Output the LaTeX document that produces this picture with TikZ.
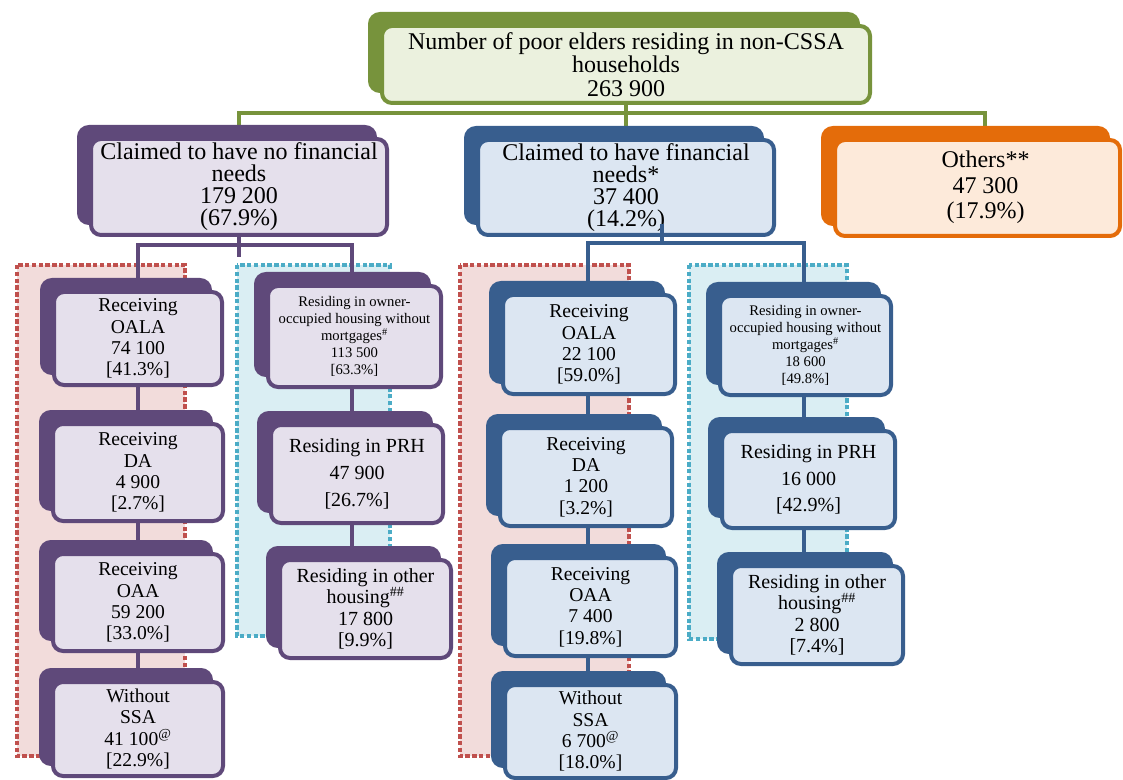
\documentclass[tikz,border=0pt]{standalone}
\usepackage{fontspec}
\setmainfont{Liberation Serif}
\usetikzlibrary{shadows}
\definecolor{gdark}{HTML}{77933C}
\definecolor{glight}{HTML}{EBF1DE}
\definecolor{pdark}{HTML}{5F497A}
\definecolor{plight}{HTML}{E5E0EC}
\definecolor{bdark}{HTML}{385E8E}
\definecolor{blight}{HTML}{DCE6F2}
\definecolor{odark}{HTML}{E46C0A}
\definecolor{olight}{HTML}{FDEADA}
\definecolor{rdot}{HTML}{C0504D}
\definecolor{rfill}{HTML}{F2DCDB}
\definecolor{cdot}{HTML}{4BACC6}
\definecolor{cfill}{HTML}{DAEEF3}
\newcommand\fTop{\fontsize{18pt}{17.6pt}\selectfont}
\newcommand\fMid{\fontsize{18pt}{16.5pt}\selectfont}
\newcommand\fOth{\fontsize{18pt}{19pt}\selectfont}
\newcommand\fLow{\fontsize{14.7pt}{16pt}\selectfont}
\newcommand\fSm{\fontsize{11pt}{12.75pt}\selectfont}
\newcommand\fPRH{\fontsize{15pt}{20pt}\selectfont}
\newcommand\fOH{\fontsize{15pt}{16pt}\selectfont}
\pgfdeclarelayer{back}
\pgfdeclarelayer{bg}
\pgfsetlayers{back,bg,main}
\begin{document}
\begin{tikzpicture}[x=0.75pt,y=-0.75pt,
 box/.style={rounded corners=7.5pt, line width=3pt, align=center, inner sep=0pt},
 sz/.style 2 args={minimum width=#1*0.75pt-3pt, minimum height=#2*0.75pt-3pt},
 colbox/.style 2 args={box, draw=#1, fill=#2,
   general shadow={fill=#1, draw=#1, line width=3pt, shadow xshift=-9pt, shadow yshift=9pt}},
 gbox/.style={colbox={gdark}{glight}},
 pbox/.style={colbox={pdark}{plight}},
 bbox/.style={colbox={bdark}{blight}},
 obox/.style={colbox={odark}{olight}},
 gline/.style={draw=gdark, line width=3pt},
 pline/.style={draw=pdark, line width=3pt},
 bline/.style={draw=bdark, line width=3pt},
 region/.style 2 args={draw=#1, fill=#2, line width=3.4pt, dash pattern=on 3.3pt off 1.8pt},
]
\useasboundingbox (0,0) rectangle (1123,780);

% level 1
\node[gbox, sz={492}{81}, font=\fTop] (top) at (626,64.5)
  {Number of poor elders residing in non-CSSA\\households\\263 900};

% level 2
\node[pbox, sz={300}{100}, font=\fMid] (p2) at (239,187)
  {Claimed to have no financial\\needs\\179 200\\(67.9\%)};
\node[bbox, sz={300}{99}, font=\fMid] (b2) at (626,187.5)
  {Claimed to have financial\\needs*\\37 400\\(14.2\%)};
\node[obox, sz={289}{100}, font=\fOth] (o2) at (977.5,188)
  {\hspace*{12pt}\begin{tabular}{@{}c@{}}Others**\\47 300\\(17.9\%)\end{tabular}};

% level 3, left (no financial needs)
\node[pbox, sz={172}{97}, font=\fLow] (A1) at (138,338.5)
  {Receiving\\OALA\\74 100\\{[}41.3\%{]}};
\node[pbox, sz={174}{101}, font=\fLow] (A2) at (138,472.5)
  {Receiving\\DA\\4 900\\{[}2.7\%{]}};
\node[pbox, sz={174}{101}, font=\fLow] (A3) at (138,602.5)
  {Receiving\\OAA\\59 200\\{[}33.0\%{]}};
\node[pbox, sz={174}{98}, font=\fLow] (A4) at (138,729)
  {Without\\SSA\\41 100\textsuperscript{@}\\{[}22.9\%{]}};
\node[pbox, sz={177}{105}, font=\fSm] (B1) at (354.5,336.5)
  {Residing in owner-\\occupied housing without\\mortgages\textsuperscript{\#}\\113 500\\{[}63.3\%{]}};
\node[pbox, sz={176}{102}, font=\fPRH] (B2) at (357,474)
  {Residing in PRH\\47 900\\{[}26.7\%{]}};
\node[pbox, sz={175}{102}, font=\fOH] (B3) at (365.5,609)
  {Residing in other\\housing\textsuperscript{\#\#}\\17 800\\{[}9.9\%{]}};

% level 3, right (financial needs)
\node[bbox, sz={176}{103}, font=\fLow] (C1) at (589,344.5)
  {Receiving\\OALA\\22 100\\{[}59.0\%{]}};
\node[bbox, sz={176}{102}, font=\fLow] (C2) at (586,477)
  {Receiving\\DA\\1 200\\{[}3.2\%{]}};
\node[bbox, sz={175}{102}, font=\fLow] (C3) at (590.5,607)
  {Receiving\\OAA\\7 400\\{[}19.8\%{]}};
\node[bbox, sz={175}{97}, font=\fLow] (C4) at (590.5,731.5)
  {Without\\SSA\\6 700\textsuperscript{@}\\{[}18.0\%{]}};
\node[bbox, sz={175}{103}, font=\fSm] (D1) at (805.5,345.5)
  {Residing in owner-\\occupied housing without\\mortgages\textsuperscript{\#}\\18 600\\{[}49.8\%{]}};
\node[bbox, sz={177}{101}, font=\fPRH] (D2) at (808.5,479.5)
  {Residing in PRH\\16 000\\{[}42.9\%{]}};
\node[bbox, sz={176}{102}, font=\fOH] (D3) at (817,615)
  {Residing in other\\housing\textsuperscript{\#\#}\\2 800\\{[}7.4\%{]}};

% coordinates
\coordinate (jg) at (626,113);
\coordinate (o2top) at (985,140);
\coordinate (jp) at (239,245);
\coordinate (xB) at (352,0);
\coordinate (jb) at (662,243);
\coordinate (xC) at (588,0);
\coordinate (xD) at (804,0);

% dotted regions
\begin{pgfonlayer}{back}
\draw[region={rdot}{rfill}] (17,265) rectangle (185,756);
\draw[region={cdot}{cfill}] (237,265) rectangle (390,636);
\draw[region={rdot}{rfill}] (460,265) rectangle (629,756);
\draw[region={cdot}{cfill}] (689,265) rectangle (847,639);
\end{pgfonlayer}

% connectors
\begin{pgfonlayer}{bg}
\draw[gline] (top.south) -- (jg);
\draw[gline] (p2.north) |- (jg) -| (o2top);
\draw[gline] (jg) -- (b2.north);
\draw[pline] (p2.south) -- ++(0,20);
\draw[pline] (A1.center) |- (xB |- jp) -- (xB |- B3.center);
\draw[pline] (A1) -- (A2) -- (A3) -- (A4);
\draw[bline] (xC |- C4.center) -- (xC |- jb) -- (xD |- jb) -- (xD |- D3.center);
\end{pgfonlayer}
\draw[bline] (jb) -- ++(0,-19);
\end{tikzpicture}
\end{document}
